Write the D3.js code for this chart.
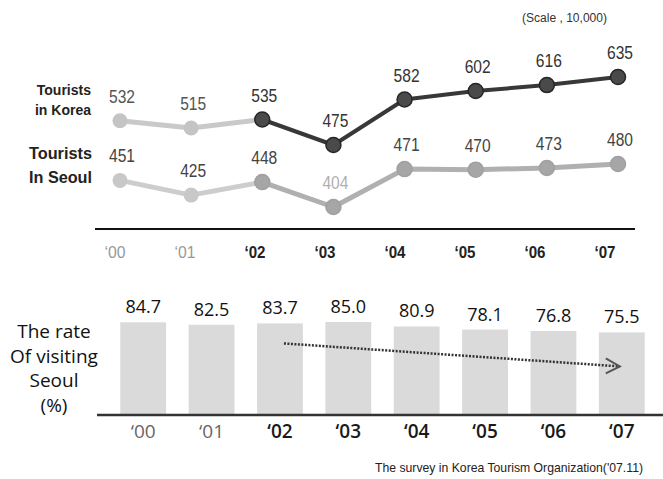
<!DOCTYPE html>
<html>
<head>
<meta charset="utf-8">
<script src="https://cdn.jsdelivr.net/npm/d3@7"></script>
<style>
  html, body { margin: 0; padding: 0; background: #fff; }
  svg { display: block; }
  .narrow { font-family: "Liberation Sans Narrow", "Arial Narrow", "Liberation Sans", sans-serif; }
  .sans { font-family: "Open Sans", "Noto Sans", sans-serif; }
</style>
</head>
<body>
<svg id="chart" width="663" height="479"></svg>
<script>
// ---------- data ----------
const years = ["‘00", "‘01", "‘02", "‘03", "‘04", "‘05", "‘06", "‘07"];
const touristsKorea = [532, 515, 535, 475, 582, 602, 616, 635];
const touristsSeoul = [451, 425, 448, 404, 471, 470, 473, 480];
const rateVisitingSeoul = [84.7, 82.5, 83.7, 85.0, 80.9, 78.1, 76.8, 75.5];
const highlightFrom = 2; // '02 onward emphasised
const seriesLabels = { korea: ["Tourists", "in Korea"], seoul: ["Tourists", "In Seoul"] };
const rateLabel = ["The rate", "Of visiting", "Seoul", "(%)"];
const scaleNote = "(Scale , 10,000)";
const sourceNote = "The survey in Korea Tourism Organization('07.11)";

const svg = d3.select("#chart");

// ---------- top line chart ----------
const xPt = d3.scalePoint().domain(years).range([120, 618]);
const xTick = d3.scalePoint().domain(years).range([115, 605]);
const yKorea = d3.scaleLinear().domain([475, 635]).range([145, 77]);
const ySeoul = d3.scaleLinear().domain([404, 480]).range([207, 164]);

const koreaPts = years.map((y, i) => ({ year: y, v: touristsKorea[i], i }));
const seoulPts = years.map((y, i) => ({ year: y, v: touristsSeoul[i], i }));

function drawSeries(pts, yScale, lightLine, lightDot, hiLine, hiDot, hiStroke, width, labelColors) {
  const line = d3.line().x(d => xPt(d.year)).y(d => yScale(d.v));
  const g = svg.append("g");
  g.append("path").datum(pts.slice(0, highlightFrom + 1))
    .attr("d", line).attr("fill", "none").attr("stroke", lightLine)
    .attr("stroke-width", 5).attr("stroke-linejoin", "round");
  g.append("path").datum(pts.slice(highlightFrom))
    .attr("d", line).attr("fill", "none").attr("stroke", hiLine)
    .attr("stroke-width", width).attr("stroke-linejoin", "round");
  g.selectAll("circle").data(pts).join("circle")
    .attr("cx", d => xPt(d.year)).attr("cy", d => yScale(d.v)).attr("r", 7.5)
    .attr("fill", d => d.i < highlightFrom ? lightDot : hiDot)
    .attr("stroke", d => d.i < highlightFrom ? "none" : hiStroke)
    .attr("stroke-width", 1.5);
  g.selectAll("text").data(pts).join("text")
    .attr("class", "narrow")
    .attr("x", d => xPt(d.year) + 2).attr("y", d => yScale(d.v) - 18)
    .attr("text-anchor", "middle").attr("font-size", 18)
    .attr("textLength", 26).attr("lengthAdjust", "spacingAndGlyphs")
    .attr("fill", d => labelColors(d))
    .text(d => d.v);
}

drawSeries(koreaPts, yKorea, "#c9c9c9", "#c4c4c4", "#383838", "#4a4a4a", "#262626", 4,
  d => d.i < highlightFrom ? "#555" : "#333");
drawSeries(seoulPts, ySeoul, "#cdcdcd", "#c8c8c8", "#b0b0b0", "#a6a6a6", "#a0a0a0", 5,
  d => d.i === 3 ? "#b0b0b0" : "#444");

// series legends
const legK = svg.append("text").attr("class", "narrow").attr("font-weight", "bold")
  .attr("font-size", 14).attr("fill", "#222").attr("text-anchor", "end");
seriesLabels.korea.forEach((t, i) => legK.append("tspan").attr("x", 91).attr("y", 95 + i * 20).text(t));
const legS = svg.append("text").attr("font-family", "Liberation Sans, Arial, sans-serif")
  .attr("font-size", 17).attr("fill", "#222").attr("text-anchor", "end").attr("font-weight", "bold");
seriesLabels.seoul.forEach((t, i) => legS.append("tspan").attr("x", 92).attr("y", 159 + i * 24)
  .attr("textLength", 63).attr("lengthAdjust", "spacingAndGlyphs").text(t));

// top axis
svg.append("line").attr("x1", 95).attr("x2", 635).attr("y1", 229).attr("y2", 229)
  .attr("stroke", "#111").attr("stroke-width", 2);
svg.append("g").selectAll("text").data(years).join("text")
  .attr("class", "narrow")
  .attr("x", d => xTick(d)).attr("y", 258).attr("text-anchor", "middle")
  .attr("font-size", 17)
  .attr("textLength", 21).attr("lengthAdjust", "spacingAndGlyphs")
  .attr("font-weight", (d, i) => i < highlightFrom ? "normal" : "bold")
  .attr("fill", (d, i) => i < highlightFrom ? "#999" : "#222")
  .text(d => d);

// scale note
svg.append("text").attr("class", "narrow").attr("x", 607).attr("y", 22)
  .attr("text-anchor", "end").attr("font-size", 12).attr("fill", "#333")
  .attr("textLength", 85).attr("lengthAdjust", "spacingAndGlyphs").text(scaleNote);

// ---------- bottom bar chart ----------
const xBar = d3.scaleBand().domain(years).range([109, 656]).paddingInner(0.33).paddingOuter(0.165);
const yBar = d3.scaleLinear().domain([0, 85]).range([415, 322]);

svg.append("g").selectAll("rect").data(years).join("rect")
  .attr("x", d => xBar(d)).attr("width", xBar.bandwidth())
  .attr("y", (d, i) => yBar(rateVisitingSeoul[i]))
  .attr("height", (d, i) => yBar(0) - yBar(rateVisitingSeoul[i]))
  .attr("fill", "#dadada");

svg.append("g").selectAll("text").data(years).join("text")
  .attr("class", "sans")
  .attr("x", d => xBar(d) + xBar.bandwidth() / 2)
  .attr("y", (d, i) => yBar(rateVisitingSeoul[i]) - 9)
  .attr("text-anchor", "middle").attr("font-size", 18).attr("fill", "#111")
  .text((d, i) => rateVisitingSeoul[i].toFixed(1));

// baseline
svg.append("line").attr("x1", 97).attr("x2", 663).attr("y1", yBar(0)).attr("y2", yBar(0))
  .attr("stroke", "#333").attr("stroke-width", 2.5);

// bottom ticks
svg.append("g").selectAll("text").data(years).join("text")
  .attr("class", "sans")
  .attr("x", d => xBar(d) + xBar.bandwidth() / 2).attr("y", 438)
  .attr("text-anchor", "middle").attr("font-size", 19)
  .attr("font-weight", (d, i) => i < highlightFrom ? "normal" : 600)
  .attr("fill", (d, i) => i < highlightFrom ? "#666" : "#1a1a1a")
  .text(d => d);

// rate label
const rl = svg.append("text").attr("class", "sans").attr("font-size", 19)
  .attr("fill", "#111").attr("text-anchor", "middle");
rateLabel.forEach((t, i) => rl.append("tspan").attr("x", 54).attr("y", 338 + i * 24.5).text(t));

// trend arrow (dotted) from '02 to '07
const ax1 = xBar(years[highlightFrom]) + xBar.bandwidth() / 2 + 4;
const ay1 = yBar(rateVisitingSeoul[highlightFrom]) + 20;
const ax2 = xBar(years[7]) + xBar.bandwidth() / 2 - 2;
const ay2 = yBar(rateVisitingSeoul[7]) + 34;
svg.append("line").attr("x1", ax1).attr("y1", ay1).attr("x2", ax2).attr("y2", ay2)
  .attr("stroke", "#333").attr("stroke-width", 2.5).attr("stroke-dasharray", "2,1.5");
svg.append("path")
  .attr("d", `M${ax2 - 14},${ay2 - 8} L${ax2},${ay2} L${ax2 - 14},${ay2 + 7}`)
  .attr("fill", "none").attr("stroke", "#555").attr("stroke-width", 2);

// source
svg.append("text").attr("class", "narrow").attr("x", 643).attr("y", 472)
  .attr("text-anchor", "end").attr("font-size", 13).attr("fill", "#222")
  .attr("textLength", 268).attr("lengthAdjust", "spacingAndGlyphs").text(sourceNote);
</script>
</body>
</html>
